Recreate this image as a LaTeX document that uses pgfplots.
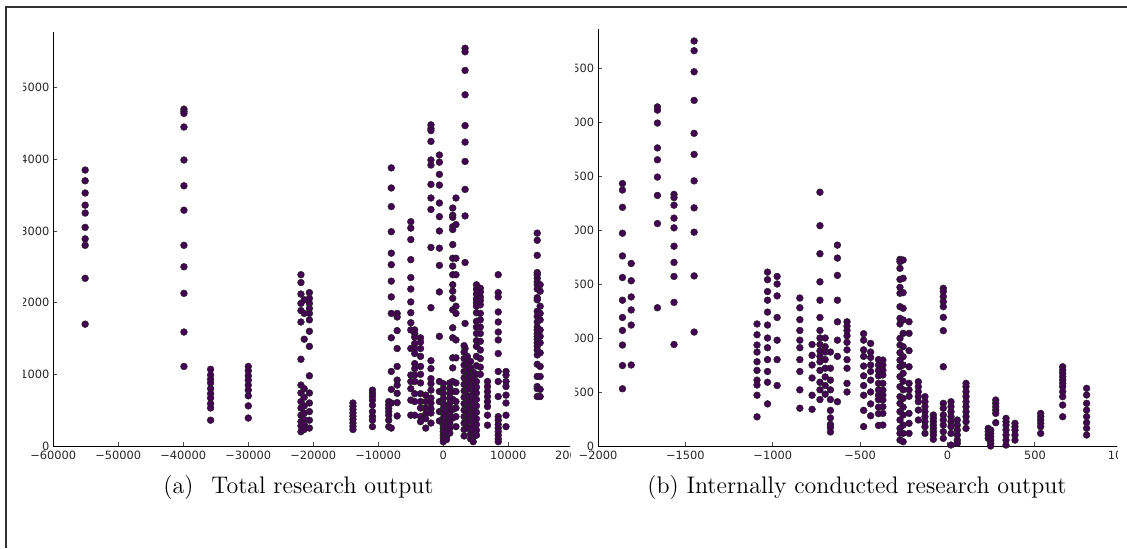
\documentclass[border=0pt]{standalone}
\usepackage{fontspec}
\usepackage{pgfplots}
\pgfplotsset{compat=1.18}
\newfontfamily\tickfont{DejaVu Sans}
\definecolor{mk}{RGB}{68,1,84}
\pgfplotsset{
  sc/.style={
    scale only axis, clip=false,
    axis x line*=bottom, axis y line*=left,
    axis line style={black, line width=0.5pt},
    tick align=inside, major tick length=2pt,
    tick style={black!70, line width=0.4pt},
    tick label style={font=\tickfont\fontsize{5.7}{6}\selectfont, text=black!85},
    xticklabel style={yshift=1pt},
    yticklabel style={xshift=1.6pt},
    scaled ticks=false,
  },
  pts/.style={only marks, mark=*, mark size=1.7pt, mark options={fill=mk, draw=black!85, line width=0.25pt}},
}
\begin{document}
\begin{tikzpicture}
\useasboundingbox (0,0) rectangle (563.5pt,274pt);
\draw[black!80, line width=0.8pt] (3pt,0pt) -- (3pt,270.5pt) -- (563.5pt,270.5pt);
\begin{scope}
\clip (11.5pt,45pt) rectangle (285pt,264pt);
\begin{axis}[sc, at={(26.65pt,51pt)}, anchor=south west, width=260pt, height=207.15pt,
  xmin=-60000, xmax=20000, ymin=0, ymax=5780,
  xtick={-60000,-50000,-40000,-30000,-20000,-10000,0,10000,20000},
  xticklabels={−60000,−50000,−40000,−30000,−20000,−10000,0,10000,20000},
  ytick={0,1000,2000,3000,4000,5000},
  yticklabels={0,1000,2000,3000,4000,5000}]
\addplot[pts] coordinates {
(-55100,3850)(-55100,3700)(-55100,3530)(-55100,3360)(-55100,3250)(-55100,3050)(-55100,2890)(-55100,2800)(-55100,2340)(-55100,1700)
(-39900,4700)(-39900,4670)(-39900,4640)(-39900,4450)(-39900,3990)(-39900,3630)(-39900,3290)(-39900,2800)(-39900,2500)(-39900,2130)(-39900,1590)(-39900,1110)
(-35800,1070)(-35800,990)(-35800,930)(-35800,880)(-35800,800)(-35800,730)(-35800,670)(-35800,590)(-35800,530)(-35800,360)
(-30000,1110)(-30000,1050)(-30000,980)(-30000,920)(-30000,850)(-30000,780)(-30000,700)(-30000,560)(-30000,390)
(-21900,2390)(-21900,2280)(-21900,2120)(-21900,1990)(-21900,1890)(-21900,1730)(-21900,1210)(-21900,850)(-21900,740)(-21900,620)(-21900,530)(-21900,430)(-21900,340)(-21900,280)(-21900,200)
(-21400,2040)(-21400,1850)(-21400,1490)(-21400,800)(-21400,680)(-21400,560)(-21400,460)(-21400,370)(-21400,300)(-21400,230)
(-20600,2140)(-20600,2060)(-20600,1990)(-20600,1920)(-20600,1850)(-20600,1760)(-20600,1600)(-20600,1390)(-20600,980)(-20600,740)(-20600,600)(-20600,480)(-20600,360)(-20600,250)
(-13900,600)(-13900,555)(-13900,510)(-13900,460)(-13900,415)(-13900,370)(-13900,320)(-13900,275)(-13900,230)
(-10900,780)(-10900,735)(-10900,690)(-10900,640)(-10900,570)(-10900,480)(-10900,410)(-10900,360)(-10900,270)
(-8400,620)(-8400,570)(-8400,525)(-8400,480)(-8400,430)(-8400,360)(-8400,270)
(-8000,3880)(-8000,3600)(-8000,3340)(-8000,2990)(-8000,2690)(-8000,2530)(-8000,2300)(-8000,2080)(-8000,1850)(-8000,1510)(-8000,1040)(-8000,790)(-8000,600)(-8000,250)
(-7100,1850)(-7100,1800)(-7100,1610)(-7100,1360)(-7100,1110)(-7100,920)(-7100,850)(-7100,735)(-7100,605)(-7100,420)
(-5000,3130)(-5000,3040)(-5000,2880)(-5000,2600)(-5000,2350)(-5000,2190)(-5000,2010)(-5000,1860)(-5000,1720)(-5000,1620)(-5000,1360)(-5000,990)(-5000,900)(-5000,800)(-5000,640)(-5000,430)
(-4400,1620)(-4400,1570)(-4400,1520)(-4400,1430)(-4400,1360)(-4400,1290)(-4400,1150)(-4400,1080)(-4400,990)(-4400,900)(-4400,730)(-4400,620)(-4400,430)
(-3500,1510)(-3500,1450)(-3500,1360)(-3500,1250)(-3500,1110)(-3500,1000)(-3500,880)(-3500,730)(-3500,620)(-3500,530)(-3500,410)(-3500,340)
(-2700,710)(-2700,620)(-2700,530)(-2700,450)(-2700,380)(-2700,250)
(-1900,4480)(-1900,4430)(-1900,4400)(-1900,4250)(-1900,3990)(-1900,3920)(-1900,3650)(-1900,3460)(-1900,3300)(-1900,2770)(-1900,1930)(-1900,1190)(-1900,1080)(-1900,940)(-1900,870)(-1900,780)(-1900,670)(-1900,600)(-1900,520)(-1900,460)(-1900,320)
(-600,4060)(-600,3960)(-600,3790)(-600,3640)(-600,3390)(-600,3200)(-600,3000)(-600,2760)(-600,2520)(-600,2150)(-600,1530)(-600,900)(-600,760)(-600,620)(-600,480)(-600,350)
(0,870)(0,800)(0,730)(0,660)(0,590)(0,520)(0,460)(0,390)(0,340)(0,290)(0,250)(0,200)(0,150)(0,110)(0,60)
(500,550)(500,480)(500,410)(500,340)(500,270)(500,200)(500,130)(500,90)
(1000,880)(1000,810)(1000,740)(1000,670)(1000,600)(1000,530)(1000,460)(1000,390)(1000,320)(1000,250)(1000,180)
(1450,3320)(1450,3220)(1450,3190)(1450,3060)(1450,3020)(1450,2810)(1450,2620)(1450,2510)(1450,2390)(1450,2250)(1450,2160)(1450,2060)(1450,1900)(1450,1650)(1450,1510)(1450,1230)(1450,1090)(1450,900)(1450,760)(1450,650)(1450,510)(1450,390)
(1950,3460)(1950,3090)(1950,2620)(1950,2390)(1950,1950)(1950,1850)(1950,1480)(1950,1230)(1950,880)(1950,760)(1950,620)(1950,530)(1950,410)(1950,270)
(3350,5550)(3350,5500)(3350,5240)(3350,4900)(3350,4470)(3350,4240)(3350,3970)(3350,3580)(3350,3210)(3350,2560)(3350,1710)(3350,1360)
(3200,1400)(3200,1310)(3200,1220)(3200,1130)(3200,1040)(3200,950)(3200,860)(3200,770)(3200,680)(3200,590)(3200,500)(3200,410)(3200,320)(3200,230)(3200,140)
(3700,1250)(3700,1150)(3700,1060)(3700,970)(3700,880)(3700,790)(3700,700)(3700,610)(3700,520)(3700,430)(3700,340)(3700,250)
(4200,1180)(4200,1090)(4200,1000)(4200,920)(4200,830)(4200,700)(4200,620)(4200,530)(4200,440)(4200,350)(4200,260)(4200,170)(4200,100)
(4600,1030)(4600,940)(4600,860)(4600,780)(4600,690)(4600,600)(4600,520)(4600,430)(4600,350)(4600,280)(4600,200)(4600,120)(4600,60)
(5100,2250)(5100,2190)(5100,2120)(5100,2050)(5100,2000)(5100,1950)(5100,1860)(5100,1740)(5100,1660)(5100,1570)(5100,1470)(5100,1390)(5100,1250)(5100,1120)(5100,1000)(5100,900)(5100,820)(5100,740)(5100,650)(5100,560)(5100,470)(5100,380)(5100,300)(5100,220)(5100,150)
(5700,2200)(5700,2150)(5700,2080)(5700,2030)(5700,1970)(5700,1850)(5700,1760)(5700,1660)(5700,1570)(5700,1460)(5700,1340)(5700,1220)(5700,1100)(5700,1000)
(6800,900)(6800,830)(6800,760)(6800,690)(6800,620)(6800,550)(6800,430)(6800,290)
(8450,2390)(8450,2140)(8450,2080)(8450,1870)(8450,1730)(8450,1590)(8450,1480)(8450,1290)(8450,1040)(8450,900)(8450,690)(8450,410)(8450,360)(8450,300)(8450,250)(8450,200)(8450,150)(8450,100)(8450,60)
(9650,1040)(9650,990)(9650,900)(9650,830)(9650,710)(9650,600)(9650,430)(9650,270)
(14450,2970)(14450,2870)(14450,2660)(14450,2420)(14450,2390)(14450,2340)(14450,2290)(14450,2250)(14450,2190)(14450,2070)(14450,2040)(14450,1880)(14450,1810)(14450,1730)(14450,1660)(14450,1620)(14450,1570)(14450,1530)(14450,1490)(14450,1440)(14450,1390)(14450,1340)(14450,1270)(14450,1140)(14450,970)(14450,830)(14450,800)(14450,690)
(14900,2250)(14900,2160)(14900,1950)(14900,1850)(14900,1760)(14900,1620)(14900,1530)(14900,1440)(14900,1300)(14900,1110)(14900,970)(14900,790)(14900,690)
};
\end{axis}
\end{scope}
\begin{scope}
\clip (287.5pt,45pt) rectangle (558.5pt,264pt);
\begin{axis}[sc, at={(299pt,51pt)}, anchor=south west, width=262.125pt, height=208.44pt,
  xmin=-2000, xmax=1000, ymin=0, ymax=3860,
  xtick={-2000,-1500,-1000,-500,0,500,1000},
  xticklabels={−2000,−1500,−1000,−500,0,500,1000},
  ytick={0,500,1000,1500,2000,2500,3000,3500},
  yticklabels={0,500,1000,1500,2000,2500,3000,3500}]
\addplot[pts] coordinates {
(-1860,2430)(-1860,2370)(-1860,2210)(-1860,1970)(-1860,1760)(-1860,1560)(-1860,1350)(-1860,1190)(-1860,1070)(-1860,935)(-1860,745)(-1860,530)
(-1810,1690)(-1810,1530)(-1810,1380)(-1810,1260)(-1810,1120)(-1810,750)
(-1660,3140)(-1660,3110)(-1660,2990)(-1660,2760)(-1660,2650)(-1660,2490)(-1660,2320)(-1660,2060)(-1660,1280)
(-1565,2330)(-1565,2300)(-1565,2230)(-1565,2110)(-1565,2020)(-1565,1850)(-1565,1700)(-1565,1570)(-1565,1330)(-1565,940)
(-1450,3750)(-1450,3660)(-1450,3465)(-1450,3200)(-1450,2895)(-1450,2700)(-1450,2455)(-1450,2205)(-1450,1980)(-1450,1575)(-1450,1055)
(-1090,1130)(-1090,1030)(-1090,935)(-1090,870)(-1090,780)(-1090,700)(-1090,610)(-1090,565)(-1090,470)(-1090,270)
(-1030,1610)(-1030,1540)(-1030,1430)(-1030,1350)(-1030,1240)(-1030,1120)(-1030,1000)(-1030,910)(-1030,800)(-1030,690)(-1030,590)(-1030,390)
(-975,1570)(-975,1500)(-975,1390)(-975,1190)(-975,980)(-975,800)(-975,560)
(-845,1370)(-845,1280)(-845,1170)(-845,1070)(-845,980)(-845,910)(-845,800)(-845,690)(-845,520)(-845,350)
(-775,940)(-775,840)(-775,750)(-775,630)(-775,470)(-775,340)
(-730,2350)(-730,2040)(-730,1780)(-730,1520)(-730,1350)(-730,1190)(-730,1070)(-730,1000)(-730,940)(-730,880)(-730,830)(-730,780)(-730,700)(-730,590)(-730,520)(-730,430)
(-700,1000)(-700,920)(-700,870)(-700,800)(-700,720)(-700,640)(-700,560)(-700,480)
(-670,870)(-670,720)(-670,610)(-670,520)(-670,430)(-670,330)(-670,260)(-670,200)(-670,170)(-670,130)
(-630,1860)(-630,1740)(-630,1580)(-630,1350)(-630,1150)(-630,980)(-630,830)(-630,410)
(-575,1150)(-575,1110)(-575,1070)(-575,1020)(-575,960)(-575,890)(-575,800)(-575,720)(-575,580)(-575,500)
(-480,1040)(-480,980)(-480,890)(-480,830)(-480,740)(-480,650)(-480,560)(-480,470)(-480,330)(-480,180)
(-440,950)(-440,870)(-440,820)(-440,750)(-440,690)(-440,610)(-440,500)(-440,390)(-440,280)
(-395,800)(-395,750)(-395,700)(-395,650)(-395,580)(-395,520)(-395,470)(-395,430)(-395,360)(-395,300)(-395,190)
(-370,796)(-370,750)(-370,703)(-370,657)(-370,580)(-370,518)(-370,472)(-370,426)(-370,364)(-370,302)(-370,194)
(-272,1728)(-272,1707)(-272,1645)(-272,1543)(-272,1469)(-272,1414)(-272,1290)(-272,1182)(-272,1130)(-272,997)(-272,935)(-272,864)(-272,796)(-272,734)(-272,642)(-272,549)(-272,457)(-272,395)(-272,318)(-272,241)(-272,164)(-272,117)(-272,55)
(-254,1722)(-254,1553)(-254,1420)(-254,1275)(-254,1167)(-254,1043)(-254,920)(-254,827)(-254,750)(-254,673)(-254,600)(-254,520)(-254,441)(-254,360)(-254,287)(-254,194)(-254,117)(-254,40)
(-220,1151)(-220,1043)(-220,883)(-220,734)(-220,580)(-220,520)(-220,460)(-220,302)(-220,210)(-220,117)
(-167,595)(-167,549)(-167,503)(-167,457)(-167,410)(-167,333)(-167,241)
(-129,457)(-129,410)(-129,364)(-129,318)(-129,272)(-129,225)(-129,179)(-129,117)
(-81,287)(-81,256)(-81,225)(-81,194)(-81,164)(-81,133)(-81,102)(-81,62)
(-24,1460)(-24,1430)(-24,1383)(-24,1337)(-24,1290)(-24,1191)(-24,1068)(-24,734)(-24,395)(-24,349)(-24,287)(-24,241)(-24,194)(-24,133)(-24,71)
(20,410)(20,364)(20,318)(20,272)(20,225)(20,179)(20,117)(20,9)
(56,241)(56,194)(56,148)(56,102)(56,55)(56,25)
(106,580)(106,549)(106,503)(106,457)(106,410)(106,364)(106,318)(106,272)(106,225)(106,163)
(233,163)(233,133)(233,102)(233,71)
(247,148)(247,117)(247,86)(247,55)(247,25)(247,0)
(276,426)(276,395)(276,364)(276,333)(276,302)(276,216)
(335,256)(335,225)(335,194)(335,148)(335,102)(335,55)(335,9)
(386,210)(386,179)(386,148)(386,102)(386,55)
(533,302)(533,272)(533,241)(533,210)(533,179)(533,117)
(659,734)(659,703)(659,673)(659,642)(659,611)(659,580)(659,549)(659,503)(659,457)(659,379)(659,271)
(796,534)(796,472)(796,395)(796,333)(796,272)(796,216)(796,164)(796,102)
};
\end{axis}
\end{scope}
\node[anchor=base, font=\fontsize{12}{14}\selectfont] at (149.25pt,27.5pt) {(a)\hspace{9pt}Total research output};
\node[anchor=base, font=\fontsize{12}{14}\selectfont] at (428.5pt,27.5pt) {(b) Internally conducted research output};
\end{tikzpicture}
\end{document}
